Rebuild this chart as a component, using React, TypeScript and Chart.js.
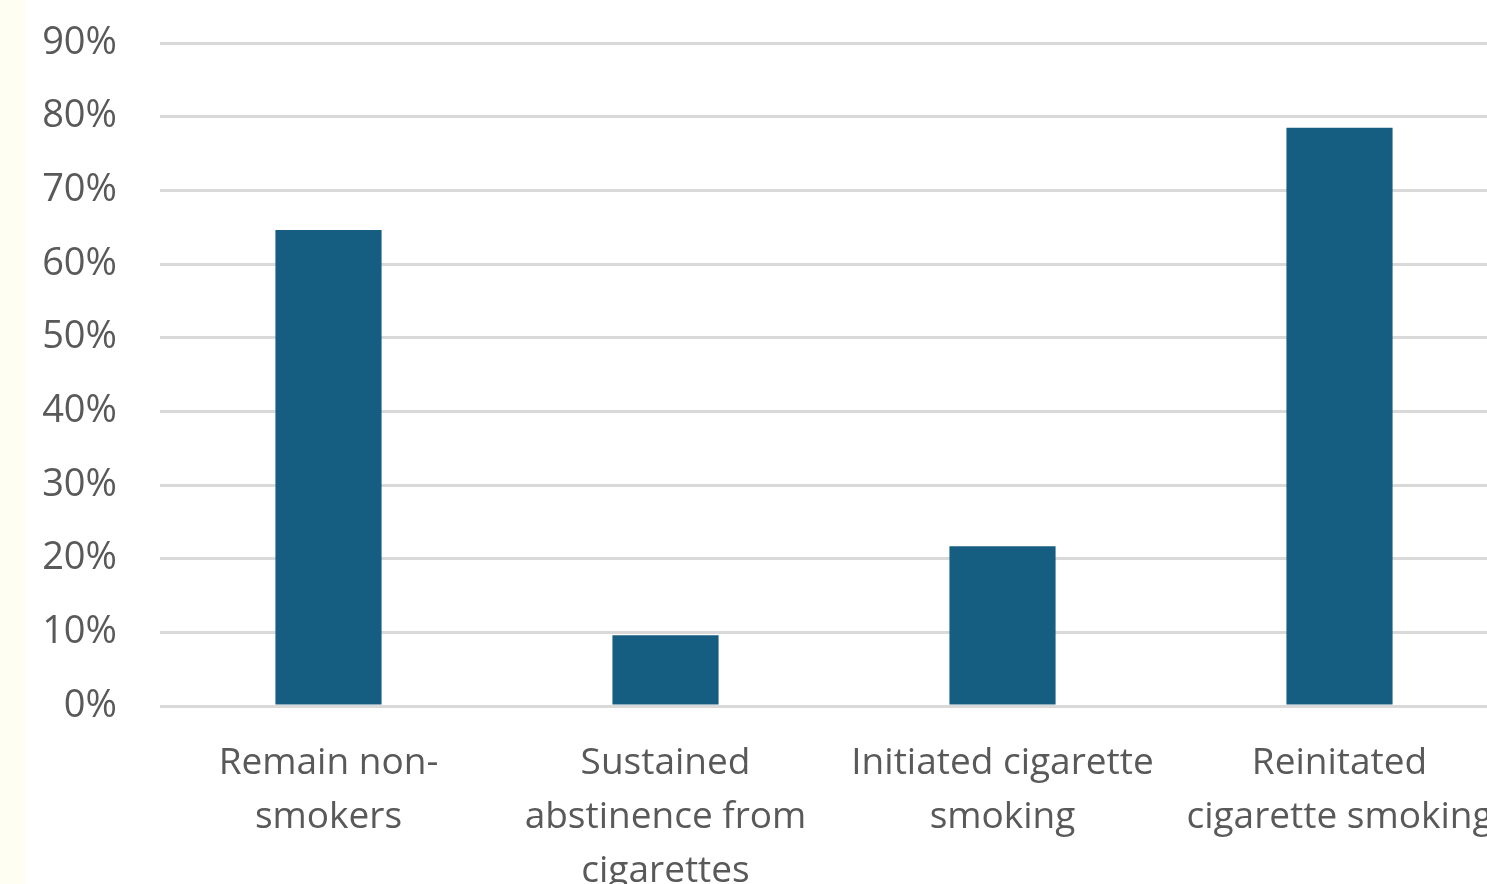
import React, { useEffect, useRef } from "react";
import { Chart, registerables } from "chart.js";

Chart.register(...registerables);

const categories: string[][] = [
  ["Remain non-", "smokers"],
  ["Sustained", "abstinence from", "cigarettes"],
  ["Initiated cigarette", "smoking"],
  ["Reinitated", "cigarette smoking"],
];
const values: number[] = [64.6, 9.6, 21.7, 78.5];
const yTicks: number[] = [0, 10, 20, 30, 40, 50, 60, 70, 80, 90];

const CANVAS_W = 1530;
const CANVAS_H = 940;

export default function App() {
  const ref = useRef<HTMLCanvasElement | null>(null);
  useEffect(() => {
    if (!ref.current) return;
    const chart = new Chart(ref.current, {
      type: "bar",
      data: {
        labels: categories,
        datasets: [
          {
            data: values,
            backgroundColor: "#165e81",
            categoryPercentage: 1,
            barPercentage: 0.315,
          },
        ],
      },
      options: {
        responsive: false,
        animation: false,
        layout: { padding: { top: 43, right: 22, left: 0, bottom: 0 } },
        plugins: { legend: { display: false }, tooltip: { enabled: false } },
        scales: {
          x: {
            grid: { display: false, drawTicks: false },
            border: { display: false },
            ticks: {
              color: "#595959",
              font: { family: "Open Sans", size: 37, lineHeight: 1.46 },
              padding: 30,
              maxRotation: 0,
              autoSkip: false,
            },
            afterFit: (s: any) => {
              s.height = CANVAS_H - 706;
              s.paddingLeft = 0;
              s.paddingRight = 0;
            },
          },
          y: {
            min: 0,
            max: 90,
            afterBuildTicks: (s: any) => {
              s.ticks = yTicks.map((v) => ({ value: v }));
            },
            grid: { color: "#d9d9d9", lineWidth: 3, drawTicks: false },
            border: { display: false },
            ticks: {
              color: "#595959",
              font: { family: "Open Sans", size: 38 },
              padding: 43,
              callback: (v: any) => v + "%",
            },
            afterFit: (s: any) => {
              s.width = 160;
              s.paddingTop = 0;
              s.paddingBottom = 0;
            },
          },
        },
      },
    });
    return () => chart.destroy();
  }, []);
  return (
    <div
      style={{
        position: "fixed",
        left: 0,
        top: 0,
        width: 1487,
        height: 884,
        overflow: "hidden",
        background: "linear-gradient(to right, #fefef3 0px, #fefef3 25px, #ffffff 25px)",
      }}
    >
      <canvas ref={ref} width={CANVAS_W} height={CANVAS_H} style={{ display: "block" }} />
    </div>
  );
}
